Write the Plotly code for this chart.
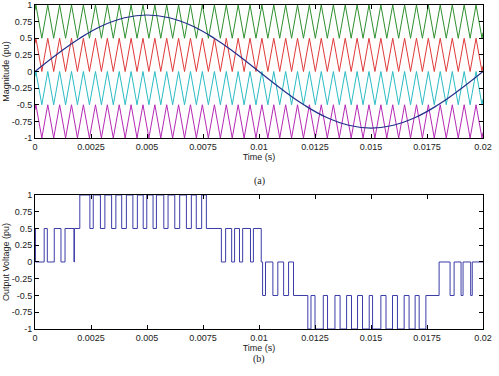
import plotly.graph_objects as go

# ---------------- data ----------------
# carrier peak instants (s) - all four carriers are in phase
carrier_peak_t = [0.00004, 0.00057, 0.00110, 0.00163, 0.00216, 0.00270, 0.00323, 0.00376,
                  0.00429, 0.00482, 0.00535, 0.00588, 0.00641, 0.00694, 0.00747, 0.00801,
                  0.00854, 0.00907, 0.00960, 0.01013, 0.01066, 0.01119, 0.01172, 0.01225,
                  0.01278, 0.01332, 0.01385, 0.01438, 0.01491, 0.01544, 0.01597, 0.01650,
                  0.01703, 0.01756, 0.01809, 0.01863, 0.01916, 0.01969]
carrier_names = ["green", "red", "cyan", "magenta"]
carrier_top = [1.0, 0.5, 0.0, -0.5]
carrier_bottom = [0.5, 0.0, -0.5, -1.0]
carrier_colors = ["#2f8f2f", "#e03a3a", "#2bbcc4", "#b52ab5"]

# reference sine (read every 1 ms)
ref_t = [0.000, 0.001, 0.002, 0.003, 0.004, 0.005, 0.006, 0.007, 0.008, 0.009, 0.010,
         0.011, 0.012, 0.013, 0.014, 0.015, 0.016, 0.017, 0.018, 0.019, 0.020]
ref_v = [0.000, 0.263, 0.500, 0.688, 0.808, 0.850, 0.808, 0.688, 0.500, 0.263, 0.000,
         -0.263, -0.500, -0.688, -0.808, -0.850, -0.808, -0.688, -0.500, -0.263, 0.000]

# output voltage: switching instants (s) and the level held from that instant
vout_t = [0.00000, 0.00002, 0.00041, 0.00055, 0.00086, 0.00116, 0.00134, 0.00174, 0.00176,
          0.00200,
          0.00245, 0.00260, 0.00292, 0.00312, 0.00342, 0.00361, 0.00387, 0.00408, 0.00437,
          0.00457, 0.00483, 0.00499, 0.00527, 0.00542, 0.00575, 0.00594, 0.00624, 0.00646,
          0.00676, 0.00698, 0.00720, 0.00744, 0.00765,
          0.00832, 0.00851, 0.00878, 0.00891, 0.00913, 0.00927, 0.00962, 0.00975, 0.01010,
          0.01016,
          0.01029, 0.01062, 0.01084, 0.01110, 0.01132, 0.01154, 0.01218,
          0.01232, 0.01250, 0.01287, 0.01306, 0.01339, 0.01362, 0.01391, 0.01413,
          0.01440, 0.01462, 0.01492, 0.01507, 0.01544, 0.01567, 0.01596, 0.01618,
          0.01648, 0.01670, 0.01697, 0.01715, 0.01745,
          0.01804,
          0.01853, 0.01871, 0.01902, 0.01911, 0.01945, 0.01952, 0.02000]
vout_v = [0.5, 0.0, 0.5, 0.0, 0.5, 0.0, 0.5, 0.0, 0.5,
          1.0,
          0.5, 1.0, 0.5, 1.0, 0.5, 1.0, 0.5, 1.0, 0.5,
          1.0, 0.5, 1.0, 0.5, 1.0, 0.5, 1.0, 0.5, 1.0,
          0.5, 1.0, 0.5, 1.0, 0.5,
          0.0, 0.5, 0.0, 0.5, 0.0, 0.5, 0.0, 0.5, 0.0,
          -0.5,
          0.0, -0.5, 0.0, -0.5, 0.0, -0.5, -1.0,
          -0.5, -1.0, -0.5, -1.0, -0.5, -1.0, -0.5, -1.0,
          -0.5, -1.0, -0.5, -1.0, -0.5, -1.0, -0.5, -1.0,
          -0.5, -1.0, -0.5, -1.0, -0.5,
          0.0,
          -0.5, 0.0, -0.5, 0.0, -0.5, 0.0, 0.0]

x_ticks = [0, 0.0025, 0.005, 0.0075, 0.01, 0.0125, 0.015, 0.0175, 0.02]
x_tick_text = ["0", "0.0025", "0.005", "0.0075", "0.01", "0.0125", "0.015", "0.0175", "0.02"]
y_ticks = [-1, -0.75, -0.5, -0.25, 0, 0.25, 0.5, 0.75, 1]
y_tick_text = ["-1", "-0.75", "-0.5", "-0.25", "0", "0.25", "0.5", "0.75", "1"]

# ---------------- build figure ----------------
fig = go.Figure()

# carrier vertices: peaks from the list, troughs midway between peaks
vert_t = []
phase = []
for i, tp in enumerate(carrier_peak_t):
    vert_t.append(tp)
    phase.append("p")
    if i + 1 < len(carrier_peak_t):
        vert_t.append((tp + carrier_peak_t[i + 1]) / 2)
        phase.append("t")
period = carrier_peak_t[1] - carrier_peak_t[0]
last_trough = carrier_peak_t[-1] + period / 2

for name, top, bot, col in zip(carrier_names, carrier_top, carrier_bottom, carrier_colors):
    xs, ys = [], []
    frac = carrier_peak_t[0] / (period / 2)
    xs.append(0.0)
    ys.append(top - (top - bot) * frac)
    for tt, ph in zip(vert_t, phase):
        xs.append(tt)
        ys.append(top if ph == "p" else bot)
    xs.append(last_trough)
    ys.append(bot)
    xs.append(0.02)
    ys.append(bot + (top - bot) * (0.02 - last_trough) / (period / 2))
    fig.add_trace(go.Scatter(x=xs, y=ys, mode="lines", line=dict(color=col, width=1),
                             name=name, xaxis="x", yaxis="y", showlegend=False,
                             hoverinfo="skip"))

fig.add_trace(go.Scatter(x=ref_t, y=ref_v, mode="lines",
                         line=dict(color="#22308a", width=1.2, shape="spline", smoothing=1.3),
                         xaxis="x", yaxis="y", showlegend=False))

fig.add_trace(go.Scatter(x=vout_t, y=vout_v, mode="lines",
                         line=dict(color="#3c3ca8", width=1, shape="hv"),
                         xaxis="x2", yaxis="y2", showlegend=False))

font = dict(family="Liberation Sans, Arial, sans-serif", size=9, color="#222222")

axis_common = dict(showline=True, linecolor="black", linewidth=1, mirror="allticks",
                   ticks="inside", ticklen=4, tickwidth=1, tickcolor="black",
                   showgrid=False, zeroline=False, tickfont=font, automargin=False)

fig.update_layout(
    width=499, height=376,
    margin=dict(l=35, r=16, t=5, b=47),
    paper_bgcolor="white", plot_bgcolor="white",
    font=font,
    xaxis=dict(domain=[0, 1], range=[0, 0.02], anchor="y",
               tickvals=x_ticks, ticktext=x_tick_text,
               title=dict(text="Time (s)", font=font, standoff=0), **axis_common),
    yaxis=dict(domain=[0.5895, 1.0], range=[-1, 1], anchor="x",
               tickvals=y_ticks, ticktext=y_tick_text,
               title=dict(text="Magnitude (pu)", font=font, standoff=0), **axis_common),
    xaxis2=dict(domain=[0, 1], range=[0, 0.02], anchor="y2",
                tickvals=x_ticks, ticktext=x_tick_text,
                title=dict(text="Time (s)", font=font, standoff=0), **axis_common),
    yaxis2=dict(domain=[0.0, 0.4136], range=[-1, 1], anchor="x2",
                tickvals=y_ticks, ticktext=y_tick_text,
                title=dict(text="Output Voltage (pu)", font=font, standoff=0), **axis_common),
    annotations=[
        dict(text="(a)", x=0.5, y=0.457, xref="paper", yref="paper", showarrow=False,
             font=dict(family="Liberation Serif, serif", size=10, color="#222222")),
        dict(text="(b)", x=0.5, y=-0.117, xref="paper", yref="paper", showarrow=False,
             font=dict(family="Liberation Serif, serif", size=10, color="#222222")),
    ],
)

fig.write_html("out.html", config={"displayModeBar": False},
               post_script="document.body.style.margin='0px';document.body.style.padding='0px';")
